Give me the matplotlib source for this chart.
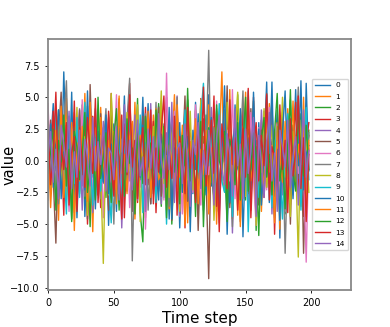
import numpy as np
import matplotlib
matplotlib.use("Agg")
import matplotlib.pyplot as plt

# time steps (every other step) and the 15 traced series
steps = list(range(0, 200, 2))

s0 = """-3.1 1.2 4.5 -0.8 2.6 -2.2 7.0 0.4 -1.9 5.4 -3.6 1.8 -0.5 3.9 -4.4 0.9 2.2 -1.3 4.1 -2.7
1.5 -0.2 3.3 -5.1 0.7 2.9 -1.6 4.8 -3.0 0.3 -2.4 3.6 1.1 -4.2 2.0 -0.9 5.0 -1.8 0.6 -3.4
2.7 -1.1 4.3 0.2 -2.9 1.9 -4.6 3.1 -0.4 2.4 -5.3 0.8 3.7 -1.5 1.3 -2.6 4.6 -0.7 2.1 -3.9
0.5 5.2 -2.0 1.6 -4.0 3.4 -0.1 2.8 -5.8 1.0 -1.7 4.4 0.1 -3.2 2.3 -0.6 5.5 -2.5 1.4 -4.8
3.0 -1.4 0.9 6.2 -3.3 1.7 -0.3 4.0 -6.1 2.5 -1.0 3.5 -2.8 0.0 5.6 -1.2 2.0 -3.7 6.1 -0.8"""
s1 = """0.8 -2.5 3.4 1.1 -4.7 2.3 -0.6 4.9 -1.7 0.2 3.8 -3.1 1.5 -0.4 5.3 -2.0 0.7 -5.6 2.6 -1.3
4.2 -0.9 1.8 -3.5 2.9 0.4 -2.2 5.1 -4.1 1.0 -0.3 3.2 -1.9 4.6 -2.8 0.6 2.4 -4.5 1.2 -0.7
3.6 -2.6 0.1 4.7 -1.4 2.0 -3.8 0.9 5.2 -2.3 1.6 -0.5 3.3 -4.9 2.2 -1.0 4.0 -3.0 0.3 1.9
-2.1 4.4 -0.2 2.7 -5.0 1.3 7.0 -1.6 3.1 -3.4 0.5 2.5 -4.3 1.7 -0.8 5.4 -2.7 0.0 3.9 -1.5
2.1 -4.0 1.4 -0.1 4.5 -2.9 0.8 3.0 -5.4 1.1 -0.6 4.1 -3.2 2.8 -1.1 0.4 -3.6 5.0 -2.4 1.0"""
s2 = """-1.5 2.8 0.3 -3.3 4.0 -0.9 1.6 -2.7 3.5 -4.6 0.8 2.1 -1.2 4.4 -3.0 0.5 -5.2 2.6 1.0 -2.0
3.1 -0.4 -2.9 1.7 4.3 -1.8 0.6 -3.9 2.4 1.2 -0.7 3.8 -2.5 0.1 4.9 -4.1 -6.4 1.5 -1.1 3.0
-2.2 0.9 4.5 -3.6 1.8 -0.2 2.9 -5.0 0.4 3.4 -1.6 2.0 -2.8 5.7 -0.5 1.3 -4.4 2.7 -1.0 0.7
3.6 -2.4 1.1 -0.3 4.1 -3.5 2.2 0.0 -4.8 3.2 1.4 -1.9 5.2 -2.6 0.6 -3.1 2.5 -0.8 4.7 -5.5
1.9 -0.6 3.3 -2.1 0.8 4.8 -3.8 1.6 -1.4 2.3 -4.2 0.2 5.6 -2.3 1.0 -0.9 3.7 -1.7 -3.9 2.4"""
s3 = """2.4 -1.0 3.9 0.5 -2.8 1.3 -4.3 3.0 0.2 -1.7 4.7 -3.4 1.9 -0.6 2.8 -5.0 0.9 3.5 -2.1 1.1
-3.7 2.6 0.4 -1.4 5.3 -2.6 1.0 -0.1 3.6 -4.5 1.7 6.1 -2.0 0.6 -3.3 2.9 -0.8 4.2 -1.9 0.3
3.1 -4.1 1.4 -0.7 2.3 5.0 -3.0 0.8 -1.5 4.0 -2.4 1.8 -5.3 3.4 0.1 -1.2 2.6 -3.8 4.9 -0.4
1.6 -2.7 0.0 5.1 -3.6 2.0 -0.9 3.7 -1.3 0.7 -4.6 2.5 1.2 -2.2 4.5 -0.5 1.5 -3.9 5.0 -1.8
0.4 3.2 -2.9 1.0 -0.3 4.3 -5.8 2.1 -1.1 3.8 -0.7 1.9 -3.5 0.6 4.6 -2.5 0.2 -4.4 1.3 3.0"""
s4 = """1.7 -0.3 2.1 -2.4 0.8 3.3 -1.5 0.2 -3.6 2.7 -0.9 1.4 4.1 -2.0 0.5 -1.2 3.0 -4.1 1.0 -0.6
2.5 -1.8 0.7 3.4 -2.9 1.2 -0.4 2.0 -5.3 0.9 2.8 -1.6 0.3 3.6 -3.1 1.5 -0.2 2.3 -1.0 4.5
-2.3 0.6 1.9 -3.4 2.6 -0.8 0.4 3.1 -1.7 5.1 -4.4 1.1 -0.5 2.2 -2.6 0.8 3.9 -1.4 0.1 -3.0
2.0 -0.7 4.2 -1.9 0.9 -3.3 1.7 0.0 -2.1 3.5 -5.7 1.3 -0.1 2.4 -1.3 0.6 -3.8 2.9 -0.9 1.6
-2.5 4.0 0.3 -1.1 2.1 -4.2 1.0 -0.4 3.2 -2.7 0.5 1.8 -3.2 2.6 -0.6 4.4 -1.5 0.2 -2.3 0.9"""
s5 = """0.9 3.2 -1.4 -6.5 2.0 5.4 -0.8 1.5 -3.0 0.4 2.6 -2.2 4.0 -1.1 0.7 -4.6 6.0 -0.5 1.8 -2.7
3.7 -1.6 0.2 -3.9 2.3 0.8 -0.9 4.6 -2.5 1.3 -0.2 2.9 -4.0 1.6 0.5 -2.0 3.5 -1.2 0.1 -3.4
2.2 -0.6 4.2 -2.8 1.0 -0.3 3.0 -4.7 0.9 2.0 -1.9 0.4 5.1 -3.2 1.4 -0.7 2.5 -5.5 0.6 3.3
-1.3 -9.3 2.1 -0.4 3.9 -2.3 1.2 -0.1 5.9 -3.7 0.8 -1.5 2.7 -4.8 1.9 0.3 -2.6 4.1 -0.9 1.1
-3.5 2.4 0.0 5.3 -1.8 1.5 -4.3 0.7 -0.8 3.6 -2.1 1.0 -5.0 2.8 0.4 -1.4 3.1 -7.3 0.2 2.0"""
s6 = """4.5 -0.7 2.2 -2.9 1.0 3.6 -1.3 0.4 -4.0 2.5 -0.2 1.7 -2.4 4.8 -1.5 0.6 3.0 -3.3 1.2 -0.8
2.0 -4.5 0.9 3.1 -1.7 0.3 5.2 -2.6 1.1 -0.5 2.7 -3.7 0.8 -1.0 4.0 -2.1 1.4 -5.4 0.5 3.4
-1.9 2.3 -0.4 1.6 -3.1 6.9 -2.2 0.7 3.9 -1.2 0.1 -4.2 2.8 -0.6 1.8 -2.5 4.4 -0.3 -3.5 1.3
0.6 -1.1 3.3 -2.0 4.7 -4.9 1.5 -0.2 2.4 -1.6 5.6 -3.0 0.9 -0.7 2.1 -2.8 0.2 3.8 -1.4 -5.1
2.6 -0.5 1.0 -2.3 4.2 -3.6 0.4 2.9 -1.8 0.0 -4.0 1.9 3.5 -2.7 0.8 -1.0 2.3 -0.6 -8.0 1.4"""
s7 = """-2.0 1.4 -0.5 3.1 -3.4 0.8 2.7 6.3 -1.1 0.3 -4.1 2.2 -0.6 1.5 -2.8 4.3 -1.6 0.9 -0.2 3.6
-3.0 1.1 4.1 -1.3 0.5 -5.0 2.4 -0.9 1.7 -2.2 3.2 6.5 -7.9 0.6 2.0 -1.5 0.2 3.7 -3.9 1.0
-0.8 4.6 -2.4 0.0 2.9 -1.0 -3.6 1.8 0.4 5.0 -2.7 1.2 -0.3 3.3 -4.4 0.7 2.1 -1.4 4.5 -2.1
0.9 8.7 -1.7 2.6 -0.1 -3.2 1.6 4.0 -2.5 0.3 -5.2 2.3 -0.7 1.3 5.5 -1.9 0.8 -3.7 2.8 -0.4
1.5 -2.6 3.9 -0.6 0.2 4.9 -4.5 1.1 -1.2 2.5 -7.3 0.5 3.0 -2.0 1.7 5.8 -3.3 0.1 -1.8 2.2"""
s8 = """0.3 -2.2 1.8 -0.4 3.5 -1.9 0.6 -3.1 2.4 1.0 -0.8 4.2 -2.6 0.1 1.9 -4.3 2.9 -0.5 -1.6 3.3
-0.9 -8.1 1.4 -2.7 5.3 0.2 -1.2 2.6 -3.5 0.8 3.8 -0.3 -2.0 1.5 4.4 -4.8 0.5 2.1 -1.4 -0.2
2.7 -3.0 0.9 5.5 -1.8 0.4 -2.9 3.4 -0.6 1.3 -4.0 2.2 0.0 -1.5 3.9 -2.3 1.1 -0.7 4.8 -3.2
1.6 -0.1 2.5 -4.7 0.7 3.1 -1.1 -2.4 4.6 0.3 -3.6 1.8 5.4 -1.7 0.6 -2.8 2.0 -0.4 3.6 -5.1
1.2 -0.9 4.1 -2.1 0.4 2.8 -3.4 1.5 -0.2 5.0 -1.3 0.7 -4.4 2.3 0.1 -7.6 3.2 -1.0 1.7 -2.5"""
s9 = """2.2 -1.3 0.6 3.8 -2.5 1.1 -0.3 -4.2 2.9 0.5 -1.8 3.4 -2.9 0.8 4.6 -1.0 0.2 -3.5 1.6 2.7
-2.4 0.4 3.0 -1.5 -4.9 1.9 0.0 2.5 -3.2 1.2 -0.6 4.3 -1.9 0.7 -2.8 3.6 -4.1 1.4 -0.2 2.0
0.9 -3.3 2.4 -0.8 1.5 -5.0 3.2 -1.4 0.3 2.8 -2.2 0.6 4.0 -1.1 -3.8 1.7 0.2 -0.9 3.5 6.1
1.0 -0.4 2.7 -3.0 0.5 4.5 -1.6 -2.5 2.1 0.8 -4.4 1.3 -0.7 2.2 -1.7 3.9 -5.6 0.9 2.0 -0.5
-2.9 1.8 0.1 -1.2 3.3 -3.7 0.7 2.6 -0.3 -4.6 1.4 3.7 -2.0 0.4 -0.8 2.4 -3.9 1.1 4.2 -1.5"""
s10 = """-0.6 2.9 -2.1 1.0 4.0 -3.0 0.7 -1.4 3.3 -0.2 2.0 -4.5 1.5 0.3 -2.3 5.5 -1.1 0.8 -3.8 2.3
0.1 -1.7 3.6 -2.6 1.3 0.4 -4.0 2.6 -0.8 5.1 -2.0 0.9 1.7 -3.6 0.2 -1.3 2.8 -0.1 4.5 -2.4
1.2 -0.5 -3.1 2.1 0.6 -1.8 4.2 -4.6 1.0 -0.3 3.0 -2.5 0.8 1.9 -5.6 2.4 -0.7 3.7 -1.2 0.0
-2.7 1.5 3.4 -0.9 2.2 -4.1 0.4 5.9 -1.5 -3.3 1.1 2.9 -0.6 4.1 -6.0 0.7 1.8 -2.2 5.4 -0.8
2.5 -3.5 0.3 1.6 -1.0 6.2 -2.8 0.9 -4.7 2.1 5.5 -1.4 0.6 -3.0 1.3 -0.4 6.3 -2.3 0.5 1.2"""
s11 = """1.9 -3.7 0.5 2.4 -1.2 4.3 -2.9 0.8 -0.6 3.0 -5.5 1.4 -1.6 2.7 0.2 -3.2 4.6 -0.9 1.1 -2.4
3.4 0.0 -2.3 1.6 -0.7 2.3 -3.4 4.9 -1.0 0.5 -2.6 1.9 3.1 -4.6 0.4 2.0 -1.2 -0.4 3.9 -2.9
0.6 4.1 -1.5 -0.8 2.6 -3.9 1.2 0.1 -2.0 4.4 -1.3 2.8 -5.1 0.7 1.5 -0.2 3.3 -3.4 0.9 -1.1
2.4 -4.2 1.0 -1.9 3.7 0.6 -0.5 2.0 -3.3 5.6 -2.2 0.3 1.6 -5.2 2.6 -0.8 4.3 -1.6 0.2 -3.7
1.8 0.4 -2.4 3.6 -0.9 1.2 -4.9 2.7 0.5 -1.7 3.1 -3.0 0.0 4.7 -2.0 1.3 -0.3 2.9 -4.4 1.6"""
s12 = """-1.0 0.7 2.5 -3.9 1.6 -0.1 3.6 -2.0 0.9 -4.8 2.3 1.1 -1.5 0.4 3.8 -2.5 -0.3 2.1 -3.1 5.0
-1.4 0.3 2.2 -0.6 -3.3 1.8 4.1 -1.9 0.6 -2.8 3.3 -0.2 1.0 -4.2 2.4 0.8 -1.8 3.5 -0.5 1.4
-2.6 4.0 0.2 -1.3 2.7 -4.5 1.3 3.2 -0.9 0.5 -3.4 2.0 -0.4 4.8 -1.6 1.5 -2.3 0.4 3.1 -5.2
0.7 2.6 -1.2 -2.9 4.4 0.0 -0.8 2.3 -4.0 1.7 0.8 -1.9 3.0 -3.1 1.2 5.0 -2.4 -0.6 2.2 0.3
-5.9 1.6 3.4 -1.3 0.5 -2.7 2.3 5.3 -1.6 0.2 -3.8 1.4 4.8 -0.9 -2.4 3.6 0.6 -1.2 2.8 -0.7"""
s13 = """3.1 -1.9 0.4 5.4 -2.4 1.2 -0.7 2.8 -3.5 0.6 1.9 -4.0 2.6 -0.3 -2.1 3.4 0.8 -1.0 4.9 -3.3
0.5 2.1 -1.6 3.9 -0.4 -2.8 1.4 0.3 -4.6 2.9 -1.1 5.2 -0.5 1.6 -3.0 0.9 2.6 -1.9 -0.1 4.0
-3.4 1.0 -0.9 2.4 5.1 -2.1 0.7 -1.4 3.5 -4.3 1.9 0.2 -2.6 4.2 -0.6 1.2 -3.3 2.7 -1.7 5.8
-2.0 0.4 3.2 -1.0 1.4 -5.6 2.9 0.6 -2.2 4.8 -0.3 1.8 -3.9 0.1 2.6 -1.3 5.7 -4.5 0.9 3.0
-1.6 2.0 -0.4 5.2 -3.1 1.1 0.3 -2.5 4.4 -0.7 1.6 -4.1 3.3 -1.2 0.7 5.1 -2.2 1.8 -4.8 0.5"""
s14 = """0.4 2.3 -1.7 0.9 -3.0 2.8 1.3 -0.5 3.9 -2.2 0.7 -1.3 2.4 -3.9 1.7 0.2 -2.0 3.4 -0.8 1.5
-0.3 3.1 -2.4 1.0 0.6 -1.5 2.7 -3.1 0.2 4.4 -0.9 1.6 -2.3 0.8 3.2 -1.2 0.3 -4.0 2.5 -0.6
1.9 -2.0 3.7 0.1 -1.4 2.2 -0.7 4.6 -3.3 0.9 1.4 -1.8 2.9 -0.2 -3.6 1.6 0.5 3.0 -2.2 0.8
-1.1 2.4 0.3 -3.5 1.8 3.6 -0.6 -1.9 2.1 0.5 -2.8 4.1 -0.4 1.3 -3.0 2.5 -1.0 0.7 3.4 -4.4
2.0 -0.2 -2.9 1.5 3.8 -1.6 0.6 -4.0 2.4 1.1 -0.5 3.2 -2.1 0.4 1.9 -3.5 0.0 4.0 -1.3 0.8"""

series = [s0, s1, s2, s3, s4, s5, s6, s7, s8, s9, s10, s11, s12, s13, s14]
labels = [str(i) for i in range(15)]

fig = plt.figure(figsize=(3.9, 3.27), dpi=100)
ax = fig.add_axes([0.123, 0.113, 0.777, 0.768])

for lab, s in zip(labels, series):
    vals = np.array(s.split(), dtype=float)
    ax.plot(steps, vals, lw=1.0, label=lab)

ax.set_xlim(0, 230)
ax.set_xticks([0, 50, 100, 150, 200])
ax.set_xlabel("Time step", fontsize=11, labelpad=2)
ax.set_ylabel("value", fontsize=10.5)
# the label sits close to the tick labels in the original
ax.yaxis.set_label_coords(-0.104, 0.5)
ax.tick_params(labelsize=7, length=2.5, width=0.6)
for sp in ax.spines.values():
    sp.set_color("#888888")
    sp.set_linewidth(1.3)

ax.legend(loc="center right", fontsize=5.4, handlelength=2.0,
          labelspacing=0.68, borderaxespad=0.4)

plt.savefig("out.png", dpi=100)
